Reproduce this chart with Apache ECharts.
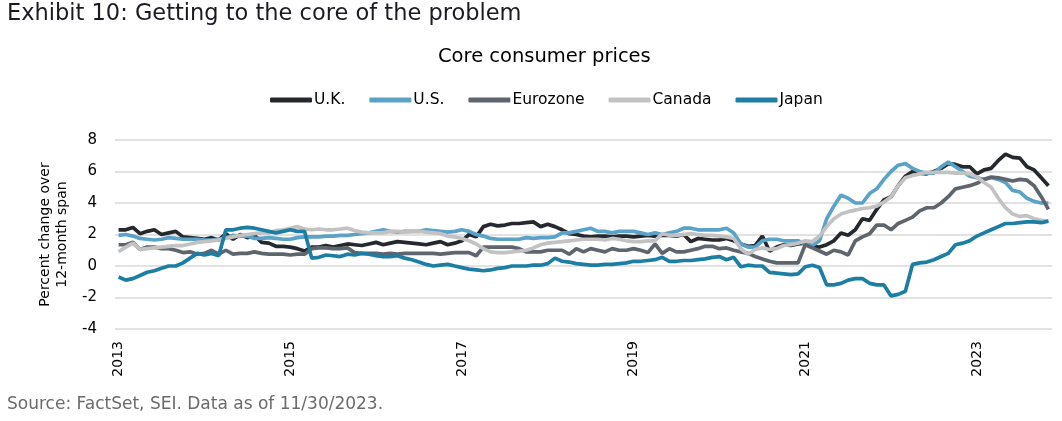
<!DOCTYPE html>
<html>
<head>
<meta charset="utf-8">
<script src="https://cdn.jsdelivr.net/npm/echarts@6/dist/echarts.min.js"></script>
<style>
html,body{margin:0;padding:0;background:#fff;}
#chart{width:1062px;height:421px;}
</style>
</head>
<body>
<div id="chart"></div>
<script>
var startYear = 2013;
var monthCount = 131; // Jan 2013 .. Nov 2023
var tickYears = ['2013','2015','2017','2019','2021','2023'];

var uk = [
  2.3,2.3,2.45,2.05,2.2,2.3,2.0,2.1,2.2,1.85,1.8,1.75,
  1.7,1.8,1.65,2.05,1.7,2.0,1.8,1.95,1.5,1.45,1.25,1.25,
  1.2,1.1,0.95,1.2,1.2,1.3,1.2,1.3,1.4,1.35,1.3,1.4,
  1.5,1.35,1.45,1.55,1.5,1.45,1.4,1.35,1.45,1.55,1.35,1.45,
  1.6,2.0,1.85,2.5,2.65,2.55,2.6,2.7,2.7,2.75,2.8,2.5,
  2.65,2.5,2.3,2.05,2.0,1.9,1.85,1.9,1.9,1.85,1.9,1.9,
  1.85,1.9,1.95,1.9,1.95,1.95,1.9,2.0,1.55,1.75,1.7,1.65,
  1.65,1.75,1.6,1.4,1.25,1.3,1.9,0.95,1.2,1.35,1.3,1.4,
  1.45,1.25,1.2,1.35,1.6,2.1,1.95,2.3,3.0,2.9,3.6,4.2,
  4.4,5.1,5.7,6.0,5.9,5.85,6.0,6.2,6.5,6.45,6.3,6.3,
  5.85,6.1,6.2,6.7,7.1,6.9,6.85,6.3,6.1,5.6,5.1
];
var us = [
  1.95,2.0,1.9,1.75,1.7,1.65,1.7,1.8,1.75,1.7,1.7,1.7,
  1.65,1.65,1.7,1.8,1.95,1.9,1.9,1.75,1.75,1.8,1.75,1.7,
  1.7,1.8,1.85,1.85,1.85,1.9,1.9,1.95,1.95,2.0,2.05,2.1,
  2.2,2.3,2.2,2.15,2.2,2.2,2.2,2.3,2.25,2.2,2.15,2.2,
  2.3,2.2,2.0,1.9,1.75,1.7,1.7,1.7,1.7,1.8,1.75,1.8,
  1.8,1.85,2.1,2.1,2.2,2.3,2.4,2.2,2.2,2.1,2.2,2.2,
  2.2,2.1,2.0,2.1,2.0,2.1,2.2,2.4,2.4,2.3,2.3,2.3,
  2.3,2.4,2.1,1.4,1.2,1.2,1.6,1.7,1.7,1.6,1.6,1.6,
  1.4,1.3,1.6,3.0,3.8,4.5,4.3,4.0,4.0,4.6,4.9,5.5,
  6.0,6.4,6.5,6.2,6.0,5.9,5.9,6.3,6.6,6.3,6.0,5.7,
  5.6,5.5,5.6,5.5,5.3,4.8,4.7,4.3,4.1,4.0,4.0
];
var eurozone = [
  1.35,1.35,1.5,1.05,1.2,1.2,1.1,1.1,1.0,0.85,0.9,0.75,
  0.8,1.0,0.75,1.0,0.75,0.8,0.8,0.9,0.8,0.75,0.75,0.75,
  0.7,0.75,0.75,1.1,1.15,1.15,1.1,1.1,1.15,0.85,0.8,0.8,
  0.8,0.75,0.8,0.75,0.8,0.8,0.8,0.8,0.8,0.75,0.8,0.85,
  0.85,0.85,0.65,1.2,1.2,1.2,1.2,1.2,1.1,0.9,0.9,0.9,
  1.0,1.0,1.0,0.75,1.1,0.9,1.1,1.0,0.9,1.1,1.0,1.0,
  1.1,1.0,0.85,1.4,0.8,1.1,0.9,0.9,1.0,1.1,1.25,1.25,
  1.1,1.15,1.0,0.9,0.8,0.6,0.45,0.3,0.2,0.2,0.2,0.2,
  1.35,1.15,0.95,0.75,1.0,0.9,0.7,1.6,1.85,2.05,2.6,2.6,
  2.3,2.7,2.9,3.1,3.5,3.7,3.7,4.0,4.4,4.9,5.0,5.1,
  5.25,5.5,5.65,5.6,5.5,5.4,5.5,5.45,5.1,4.4,3.6
];
var canada = [
  0.9,1.2,1.45,1.05,1.1,1.15,1.2,1.25,1.3,1.3,1.4,1.5,
  1.55,1.6,1.65,1.75,1.85,1.95,2.0,2.05,2.1,2.1,2.25,2.3,
  2.4,2.5,2.35,2.3,2.35,2.3,2.3,2.35,2.4,2.25,2.15,2.1,
  2.1,2.1,2.2,2.2,2.15,2.2,2.2,2.15,2.1,2.05,1.9,1.85,
  1.75,1.6,1.4,1.1,0.9,0.85,0.85,0.9,0.95,1.0,1.15,1.35,
  1.45,1.5,1.55,1.6,1.65,1.7,1.7,1.7,1.65,1.75,1.7,1.6,
  1.55,1.55,1.6,1.6,2.05,1.95,1.95,2.0,2.05,2.0,1.95,1.95,
  1.9,1.85,1.75,1.1,0.75,1.05,1.15,1.05,1.1,1.3,1.35,1.45,
  1.6,1.55,1.9,2.5,3.0,3.3,3.45,3.55,3.65,3.7,3.8,4.05,
  4.4,5.1,5.6,5.75,5.85,5.95,5.95,5.95,5.95,5.9,5.9,5.85,
  5.65,5.3,5.0,4.3,3.7,3.3,3.15,3.2,3.0,2.9,2.85
];
var japan = [
  -0.7,-0.9,-0.8,-0.6,-0.4,-0.3,-0.15,0.0,0.0,0.2,0.5,0.8,
  0.7,0.8,0.65,2.3,2.3,2.4,2.45,2.4,2.3,2.2,2.1,2.2,
  2.3,2.2,2.2,0.5,0.55,0.7,0.65,0.6,0.75,0.7,0.8,0.75,
  0.65,0.6,0.6,0.65,0.5,0.4,0.25,0.1,0.0,0.05,0.1,0.0,
  -0.1,-0.2,-0.25,-0.3,-0.25,-0.15,-0.1,0.0,0.0,0.0,0.05,0.05,
  0.15,0.5,0.3,0.25,0.15,0.1,0.05,0.05,0.1,0.1,0.15,0.2,
  0.3,0.3,0.35,0.4,0.55,0.3,0.3,0.35,0.35,0.4,0.45,0.55,
  0.6,0.4,0.55,-0.05,0.05,0.0,0.0,-0.4,-0.45,-0.5,-0.55,-0.5,
  -0.05,0.05,-0.1,-1.2,-1.2,-1.1,-0.9,-0.8,-0.8,-1.1,-1.2,-1.2,
  -1.9,-1.8,-1.6,0.1,0.2,0.25,0.4,0.6,0.8,1.35,1.45,1.6,
  1.9,2.1,2.3,2.5,2.7,2.7,2.75,2.8,2.8,2.75,2.85
];

var seriesNames = ['U.K.','U.S.','Eurozone','Canada','Japan'];
var seriesColors = ['#25282d','#5aa2c8','#5f656d','#c2c2c2','#1d7ea4'];
var seriesData = [uk, us, eurozone, canada, japan];

var months = [];
for (var i = 0; i < monthCount; i++) {
  var y = startYear + Math.floor(i / 12);
  var m = (i % 12) + 1;
  months.push(y + '-' + (m < 10 ? '0' + m : m));
}

var FONT = 'DejaVu Sans';
var chart = echarts.init(document.getElementById('chart'), null, {renderer: 'canvas'});

var series = seriesNames.map(function (n, k) {
  return {
    name: n,
    type: 'line',
    data: seriesData[k],
    showSymbol: false,
    symbol: 'none',
    lineStyle: {width: 3.7, color: seriesColors[k]},
    itemStyle: {color: seriesColors[k]},
    z: 2 + k,
    animation: false
  };
});

chart.setOption({
  animation: false,
  backgroundColor: '#ffffff',
  title: [
    {text: 'Exhibit 10: Getting to the core of the problem', left: 7, top: 3, padding: 0,
     textStyle: {fontFamily: FONT, fontSize: 22.5, fontWeight: 'normal', color: '#1a1a22'}},
    {text: 'Core consumer prices', left: 438, top: 47, padding: 0,
     textStyle: {fontFamily: FONT, fontSize: 19.5, fontWeight: 'normal', color: '#000'}},
    {text: 'Source: FactSet, SEI. Data as of 11/30/2023.', left: 7, top: 396, padding: 0,
     textStyle: {fontFamily: FONT, fontSize: 17, fontWeight: 'normal', color: '#6b6b6b'}}
  ],
  legend: {
    data: seriesNames.map(function (n) { return {name: n, icon: 'roundRect'}; }),
    left: 270,
    top: 92,
    itemWidth: 42,
    itemHeight: 5,
    itemGap: 24,
    padding: 0,
    textStyle: {fontFamily: FONT, fontSize: 15.5, color: '#000', padding: [0, 0, 0, -3]}
  },
  grid: {left: 115, right: 10, top: 140, bottom: 92, containLabel: false},
  xAxis: {
    type: 'category',
    data: months,
    boundaryGap: true,
    axisLine: {show: false},
    axisTick: {show: false},
    splitLine: {show: false},
    axisLabel: {
      rotate: 90,
      margin: 12,
      fontFamily: FONT,
      fontSize: 14,
      color: '#000',
      interval: function (idx) { return idx % 24 === 0; },
      formatter: function (v) {
        var yr = v.slice(0, 4);
        return tickYears.indexOf(yr) >= 0 ? yr : '';
      }
    }
  },
  yAxis: {
    type: 'value',
    min: -4,
    max: 8,
    interval: 2,
    name: 'Percent change over\n12-month span',
    nameLocation: 'middle',
    nameGap: 40,
    nameRotate: 90,
    nameTextStyle: {fontFamily: FONT, fontSize: 14, color: '#000', lineHeight: 17},
    axisLine: {show: false},
    axisTick: {show: false},
    axisLabel: {fontFamily: FONT, fontSize: 15, color: '#000', margin: 18},
    splitLine: {lineStyle: {color: '#d9d9d9', width: 1.5}}
  },
  series: series
});
</script>
</body>
</html>
